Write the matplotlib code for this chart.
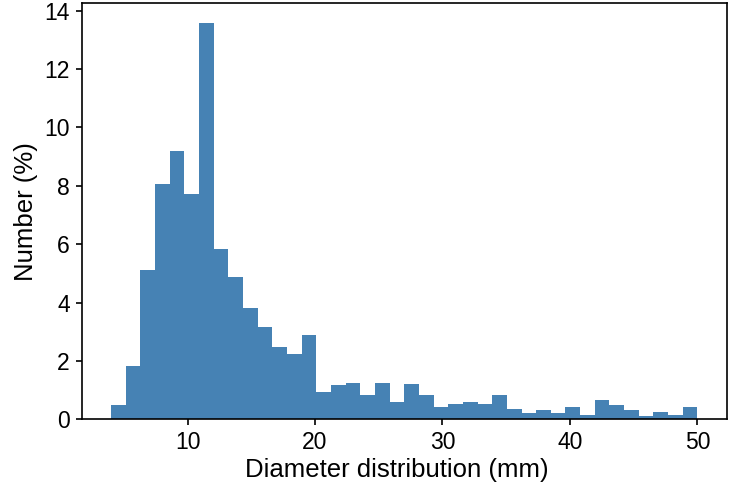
import numpy as np
import matplotlib
matplotlib.use("Agg")
import matplotlib.pyplot as plt

plt.rcParams['font.family'] = ['Liberation Sans', 'DejaVu Sans']

# bin range of the diameter histogram (mm) and number of bins
d_min = 4.0
d_max = 50.0
n_bins = 40

# percentage in each bin
percent = [0.48, 1.83, 5.12, 8.06, 9.18, 7.73, 13.58, 5.84, 4.89, 3.82,
           3.16, 2.49, 2.22, 2.88, 0.92, 1.16, 1.26, 0.82, 1.26, 0.60,
           1.20, 0.82, 0.43, 0.53, 0.59, 0.53, 0.82, 0.36, 0.20, 0.31,
           0.20, 0.43, 0.15, 0.65, 0.48, 0.31, 0.11, 0.26, 0.15, 0.43]

edges = np.linspace(d_min, d_max, n_bins + 1)

fig = plt.figure(figsize=(7.3, 4.93), dpi=100)
ax = fig.add_axes([0.112, 0.1495, 0.8835, 0.8445])
ax.stairs(percent, edges, fill=True, color="#4682B4", baseline=0)
ax.margins(x=0.05, y=0.05)
ax.set_ylim(bottom=0)

ax.set_xticks([10, 20, 30, 40, 50])
ax.set_yticks([0, 2, 4, 6, 8, 10, 12, 14])
ax.tick_params(labelsize=16.5, length=4.5, width=1.2, direction='out', pad=4)
ax.set_xlabel('Diameter distribution (mm)', fontsize=18.5, labelpad=3)
ax.xaxis.label.set_x(0.488)
ax.set_ylabel('Number (%)', fontsize=18.5, labelpad=5)
for s in ax.spines.values():
    s.set_linewidth(1.2)

plt.savefig("out.png", dpi=100)
